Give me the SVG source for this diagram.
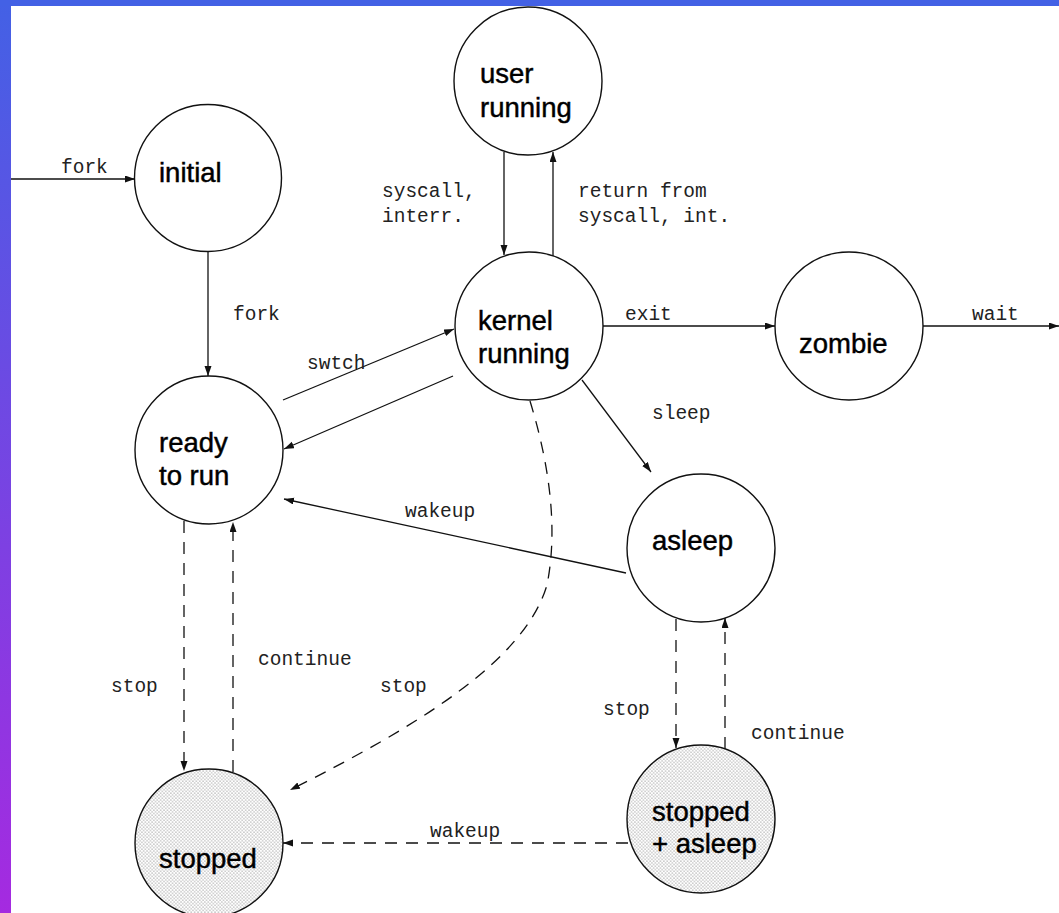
<svg xmlns="http://www.w3.org/2000/svg" width="1059" height="913" viewBox="0 0 1059 913">
  <defs>
    <linearGradient id="sideBar" x1="0" y1="0" x2="0" y2="1">
      <stop offset="0" stop-color="#4361e5"/>
      <stop offset="1" stop-color="#a52ae0"/>
    </linearGradient>
    <pattern id="stipple" width="3.4" height="3.4" patternUnits="userSpaceOnUse">
      <circle cx="0.85" cy="0.85" r="0.5" fill="#333"/>
      <circle cx="2.55" cy="2.55" r="0.5" fill="#333"/>
    </pattern>
    <marker id="arrow" markerUnits="userSpaceOnUse" markerWidth="11" markerHeight="8" refX="10" refY="3.5" orient="auto">
      <path d="M0,0 L10,3.5 L0,7 z" fill="#111"/>
    </marker>
    <style>
      .state { fill: #fff; stroke: #111; stroke-width: 1.4; }
      .state.shaded { fill: url(#stipple); }
      .name { font-family: "Liberation Sans", Arial, sans-serif; font-size: 27.5px; fill: #000; stroke: #000; stroke-width: 0.45; }
      .edge { fill: none; stroke: #111; stroke-width: 1.3; }
      .dashed { stroke-dasharray: 12 9; }
      .label { font-family: "Liberation Mono", "Courier New", monospace; font-size: 19.5px; fill: #222; }
    </style>
  </defs>

  <!-- frame -->
  <rect x="0" y="0" width="1059" height="913" fill="#fff"/>
  <rect x="0" y="0" width="11" height="913" fill="url(#sideBar)"/>
  <rect x="0" y="0" width="1059" height="6" fill="#4361e5"/>

  <!-- transitions -->
  <g id="connectors">
    <path class="edge" d="M11,179 L135,179" marker-end="url(#arrow)"/>
    <path class="edge" d="M208,252 L208,376" marker-end="url(#arrow)"/>
    <path class="edge" d="M504,152 L504,255" marker-end="url(#arrow)"/>
    <path class="edge" d="M553,256 L553,152" marker-end="url(#arrow)"/>
    <path class="edge" d="M603,326 L775,326" marker-end="url(#arrow)"/>
    <path class="edge" d="M923,326 L1059,326" marker-end="url(#arrow)"/>
    <path class="edge" d="M283,400 L454,329" marker-end="url(#arrow)"/>
    <path class="edge" d="M453,376 L284,449" marker-end="url(#arrow)"/>
    <path class="edge" d="M582,380 L651,472" marker-end="url(#arrow)"/>
    <path class="edge" d="M626,573 L284,499" marker-end="url(#arrow)"/>
    <path class="edge dashed" d="M530,401 C545,450 560,520 547,585 C525,660 420,725 290,790" marker-end="url(#arrow)"/>
    <path class="edge dashed" d="M184,521 L184,771" marker-end="url(#arrow)"/>
    <path class="edge dashed" d="M233,772 L233,522" marker-end="url(#arrow)"/>
    <path class="edge dashed" d="M676,619 L676,748" marker-end="url(#arrow)"/>
    <path class="edge dashed" d="M725,749 L725,618" marker-end="url(#arrow)"/>
    <path class="edge dashed" d="M628,843 L283,843" marker-end="url(#arrow)"/>

    <text class="label" x="61" y="173">fork</text>
    <text class="label" x="233" y="320">fork</text>
    <text class="label" x="382" y="197">syscall,</text>
    <text class="label" x="382" y="222">interr.</text>
    <text class="label" x="578" y="197">return from</text>
    <text class="label" x="578" y="222">syscall, int.</text>
    <text class="label" x="625" y="320">exit</text>
    <text class="label" x="972" y="320">wait</text>
    <text class="label" x="307" y="369">swtch</text>
    <text class="label" x="652" y="419">sleep</text>
    <text class="label" x="405" y="517">wakeup</text>
    <text class="label" x="111" y="692">stop</text>
    <text class="label" x="258" y="665">continue</text>
    <text class="label" x="380" y="692">stop</text>
    <text class="label" x="603" y="715">stop</text>
    <text class="label" x="751" y="739">continue</text>
    <text class="label" x="430" y="837">wakeup</text>
  </g>

  <!-- states -->
  <g id="initial">
    <circle class="state" cx="208" cy="178" r="73.5"/>
    <text class="name" x="159" y="182">initial</text>
  </g>
  <g id="user-running">
    <circle class="state" cx="528" cy="81" r="74"/>
    <text class="name" x="480" y="83">user</text>
    <text class="name" x="480" y="117">running</text>
  </g>
  <g id="kernel-running">
    <circle class="state" cx="529" cy="326" r="74"/>
    <text class="name" x="478" y="330">kernel</text>
    <text class="name" x="478" y="363">running</text>
  </g>
  <g id="zombie">
    <circle class="state" cx="849" cy="326" r="74"/>
    <text class="name" x="799" y="353">zombie</text>
  </g>
  <g id="ready-to-run">
    <circle class="state" cx="209" cy="450" r="74"/>
    <text class="name" x="159" y="452">ready</text>
    <text class="name" x="159" y="485">to run</text>
  </g>
  <g id="asleep">
    <circle class="state" cx="701" cy="548" r="74"/>
    <text class="name" x="652" y="550">asleep</text>
  </g>
  <g id="stopped">
    <circle class="state shaded" cx="209" cy="843" r="74"/>
    <text class="name" x="159" y="868">stopped</text>
  </g>
  <g id="stopped-asleep">
    <circle class="state shaded" cx="701" cy="819" r="74"/>
    <text class="name" x="652" y="821">stopped</text>
    <text class="name" x="652" y="853">+ asleep</text>
  </g>
</svg>
